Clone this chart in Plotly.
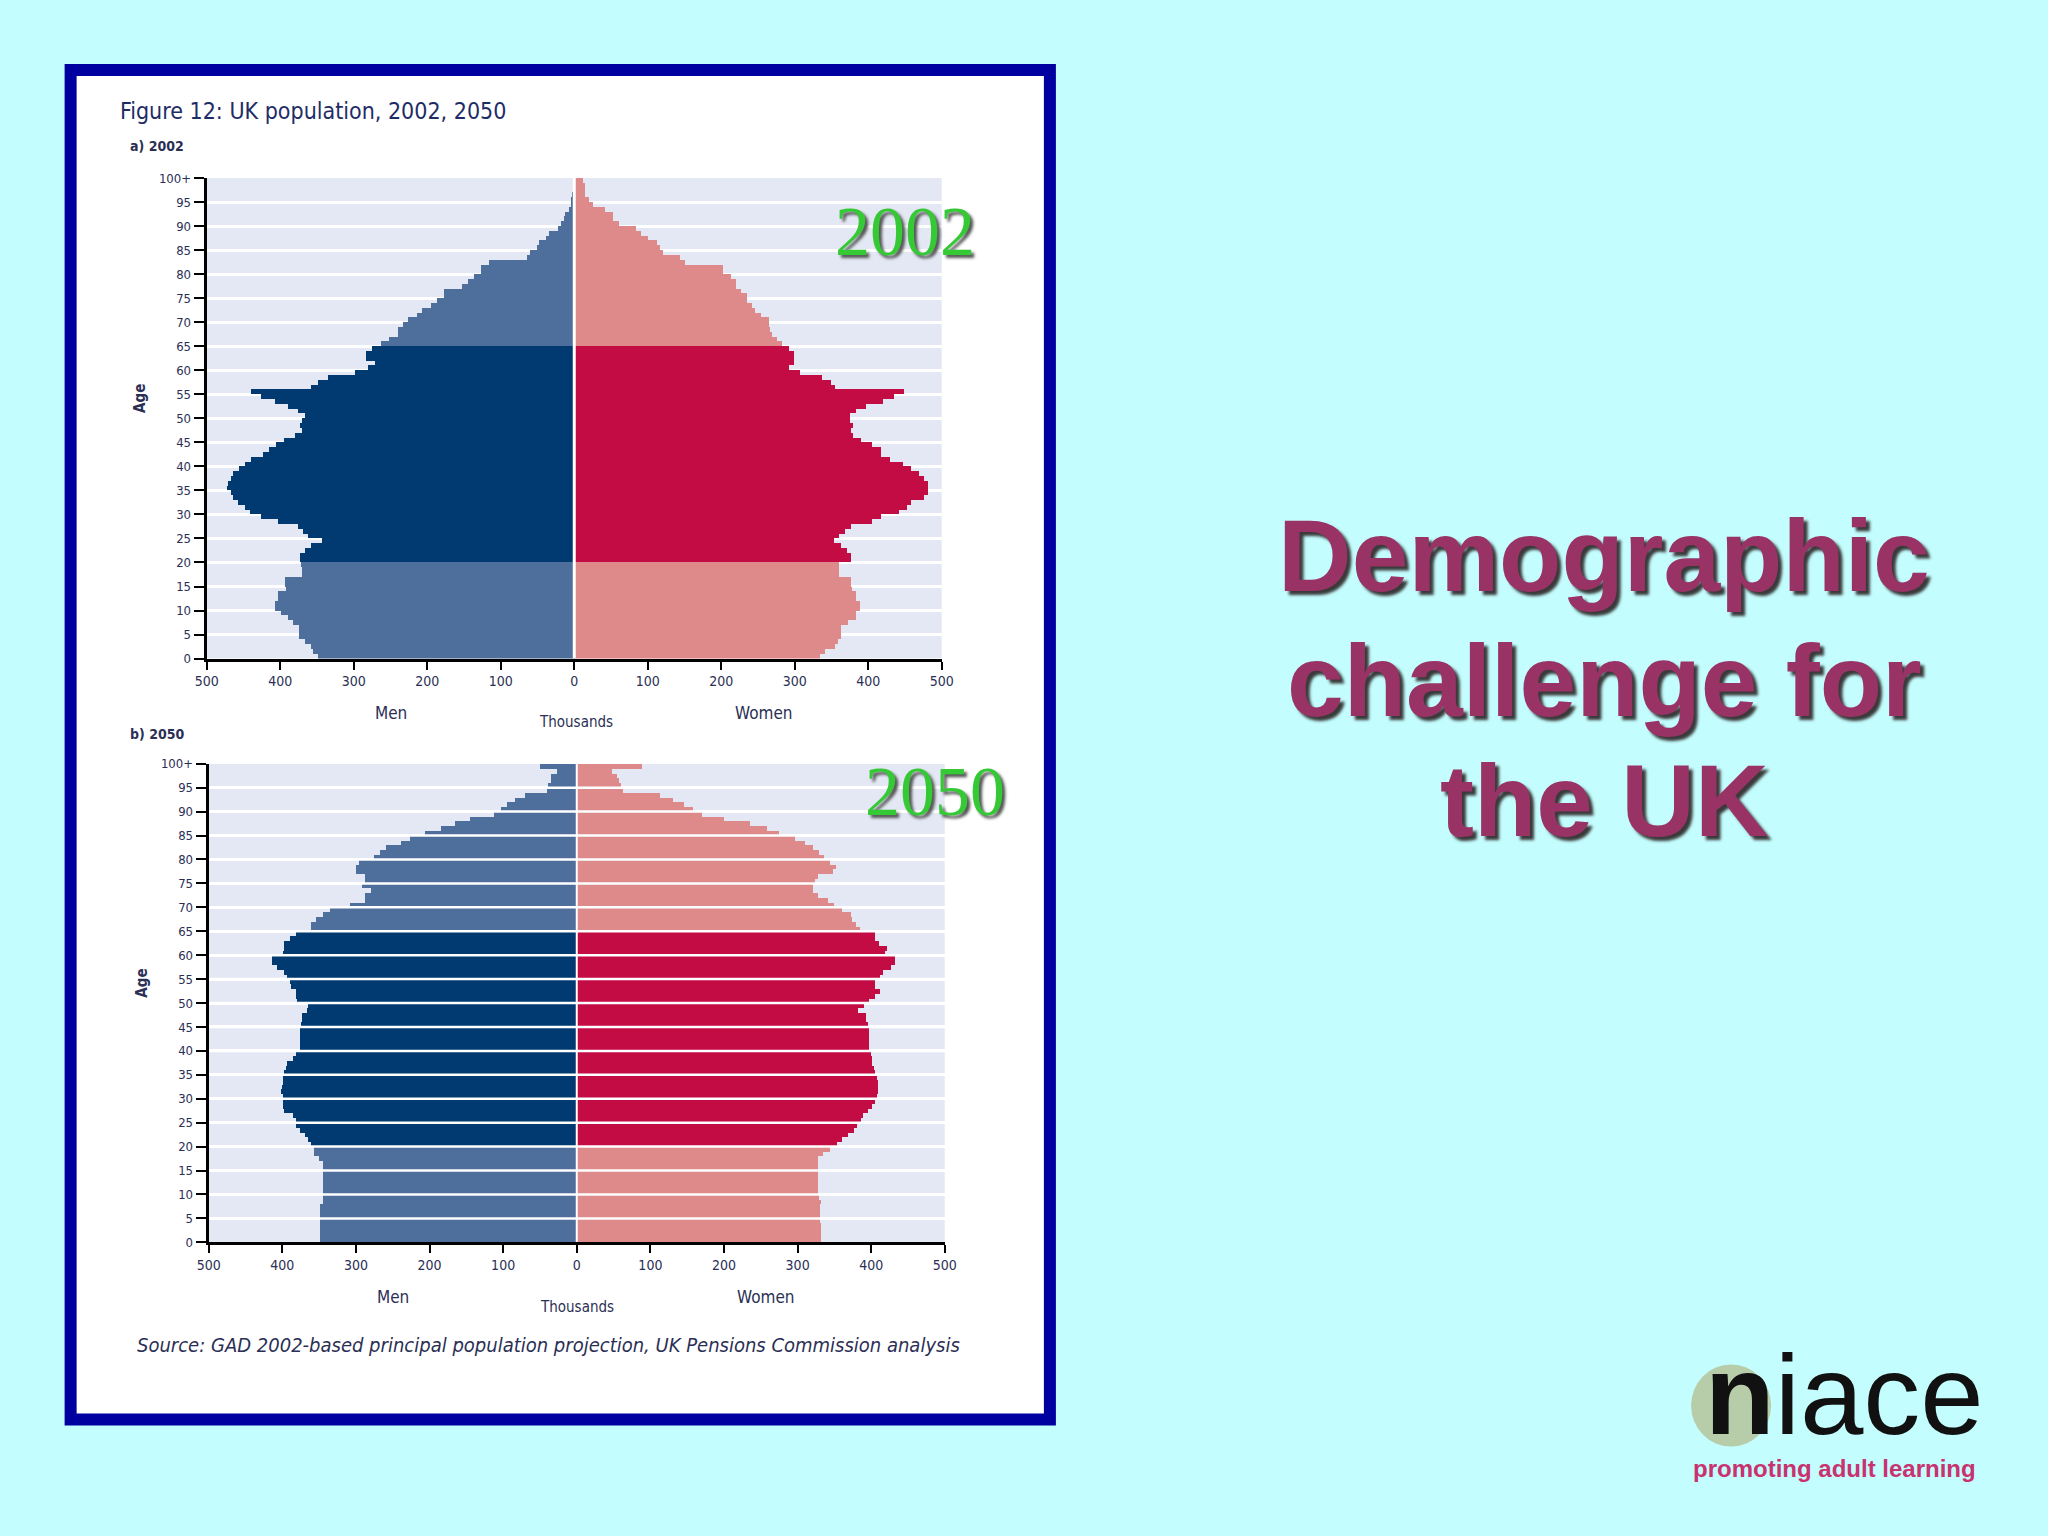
import plotly.graph_objects as go

W, H = 2048, 1536

# ---------------- data (thousands) ----------------
ages = list(range(100))  # last bar = 100+ band at the top
age_tick_vals = list(range(0, 101, 5))
age_tick_text = [str(a) for a in range(0, 100, 5)] + ["100+"]
thousand_tick_vals = [-500, -400, -300, -200, -100, 0, 100, 200, 300, 400, 500]
thousand_tick_text = ["500", "400", "300", "200", "100", "0", "100", "200", "300", "400", "500"]

men_2002 = [349, 356, 359, 367, 375, 375, 375, 383, 390, 399,
            407, 407, 403, 403, 392, 394, 394, 371, 371, 372,
            374, 374, 367, 359, 344, 362, 369, 376, 403, 426,
            442, 448, 458, 464, 467, 473, 471, 467, 464, 457,
            448, 440, 424, 415, 406, 395, 380, 371, 374, 371,
            367, 376, 390, 408, 426, 440, 358, 349, 335, 299,
            281, 272, 284, 284, 276, 264, 252, 240, 240, 233,
            227, 215, 207, 195, 187, 178, 178, 153, 145, 137,
            128, 128, 117, 65, 60, 51, 49, 39, 35, 22,
            19, 15, 13, 8, 5, 5, 4, 2, 1, 1]
women_2002 = [334, 340, 354, 358, 363, 363, 363, 372, 383, 383,
              388, 388, 383, 383, 377, 376, 376, 360, 360, 360,
              376, 376, 370, 363, 353, 360, 368, 376, 404, 417,
              441, 452, 458, 475, 480, 480, 480, 475, 469, 457,
              447, 429, 417, 417, 404, 390, 379, 376, 379, 374,
              374, 383, 397, 419, 435, 448, 354, 349, 336, 306,
              291, 298, 298, 298, 291, 282, 275, 268, 266, 264,
              264, 254, 245, 241, 235, 235, 226, 219, 219, 213,
              202, 202, 150, 144, 120, 116, 112, 100, 90, 83,
              60, 52, 52, 42, 25, 19, 14, 14, 14, 12]
men_2050 = [349, 349, 349, 349, 349, 349, 349, 349, 345, 345,
            345, 345, 345, 345, 345, 345, 345, 350, 357, 357,
            361, 366, 370, 377, 382, 382, 386, 398, 399, 399,
            400, 402, 401, 399, 399, 398, 395, 394, 386, 382,
            377, 377, 377, 377, 377, 375, 374, 374, 367, 366,
            380, 382, 382, 388, 390, 394, 398, 407, 415, 415,
            400, 398, 398, 390, 382, 361, 361, 355, 345, 336,
            309, 288, 288, 280, 292, 288, 288, 300, 300, 296,
            276, 268, 259, 239, 227, 207, 185, 166, 145, 113,
            104, 95, 84, 71, 41, 39, 35, 35, 27, 51]
women_2050 = [331, 331, 331, 331, 330, 330, 330, 330, 331, 328,
              327, 327, 327, 327, 327, 327, 327, 327, 334, 343,
              353, 360, 368, 376, 380, 385, 388, 395, 400, 404,
              408, 409, 409, 409, 408, 404, 403, 401, 400, 399,
              397, 397, 397, 397, 397, 395, 393, 393, 381, 390,
              397, 404, 412, 404, 404, 412, 416, 427, 432, 432,
              418, 421, 410, 404, 404, 384, 379, 373, 372, 360,
              349, 341, 327, 321, 321, 323, 327, 348, 352, 343,
              336, 328, 321, 309, 296, 274, 258, 235, 200, 170,
              158, 145, 130, 112, 63, 59, 57, 54, 47, 88]

# ---------------- styling ----------------
BG = "#C4FDFE"
FRAME = "#0000A0"
PLOT_BG = "#E3E8F4"
MEN_LIGHT, MEN_DARK = "#4E6E9B", "#003A70"
WOMEN_LIGHT, WOMEN_DARK = "#DE8A8B", "#C40C44"
COND = "Liberation Sans Narrow, DejaVu Sans Condensed, Liberation Sans, sans-serif"
INK = "#2B2F55"

# pixel -> paper mapping (small calibration so that the photographed page lines up)
AX, BX = 0.988, 11.4
AY, BY = 0.989, 7.2


def px(x):
    return ((x - BX) / AX) / W


def py(y):
    return 1 - ((y - BY) / AY) / H


def working_age(a):
    return 20 <= a <= 64


men_cols = [MEN_DARK if working_age(a) else MEN_LIGHT for a in ages]
women_cols = [WOMEN_DARK if working_age(a) else WOMEN_LIGHT for a in ages]
yc = [a + 0.5 for a in ages]

fig = go.Figure()

panels = [
    ("x", "y", men_2002, women_2002, False),
    ("x2", "y2", men_2050, women_2050, True),
]
for xa, ya, men, women, overlay_grid in panels:
    fig.add_trace(go.Bar(x=[-v for v in men], y=yc, orientation="h", width=1,
                         marker=dict(color=men_cols, line=dict(width=0)),
                         xaxis=xa, yaxis=ya, hoverinfo="skip", showlegend=False))
    fig.add_trace(go.Bar(x=women, y=yc, orientation="h", width=1,
                         marker=dict(color=women_cols, line=dict(width=0)),
                         xaxis=xa, yaxis=ya, hoverinfo="skip", showlegend=False))
    if overlay_grid:
        gx, gy = [], []
        for t in age_tick_vals[1:-1]:
            gx += [thousand_tick_vals[0], thousand_tick_vals[-1], None]
            gy += [t, t, None]
        fig.add_trace(go.Scatter(x=gx, y=gy, mode="lines",
                                 line=dict(color="white", width=2.5),
                                 xaxis=xa, yaxis=ya, hoverinfo="skip", showlegend=False))
    fig.add_trace(go.Scatter(x=[0, 0], y=[0, age_tick_vals[-1]], mode="lines",
                             line=dict(color="white", width=3 if not overlay_grid else 2),
                             xaxis=xa, yaxis=ya, hoverinfo="skip", showlegend=False))

axis_common = dict(showline=True, linecolor="black", linewidth=3, zeroline=False,
                   ticks="outside", tickcolor="black", tickwidth=2)

fig.update_layout(
    width=W, height=H,
    margin=dict(l=0, r=0, t=0, b=0),
    paper_bgcolor=BG,
    plot_bgcolor="rgba(0,0,0,0)",
    barmode="overlay", bargap=0,
    showlegend=False,
    xaxis=dict(domain=[px(206), px(941)], range=[-500, 500], anchor="y",
               tickvals=thousand_tick_vals, ticktext=thousand_tick_text, ticklen=8,
               showgrid=False, tickfont=dict(family=COND, size=14, color=INK), **axis_common),
    yaxis=dict(domain=[py(658), py(178)], range=[0, 100], anchor="x",
               tickvals=age_tick_vals, ticktext=age_tick_text, ticklen=10,
               showgrid=True, gridcolor="white", gridwidth=2.5,
               tickfont=dict(family=COND, size=13, color=INK), **axis_common),
    xaxis2=dict(domain=[px(208), px(944)], range=[-500, 500], anchor="y2",
                tickvals=thousand_tick_vals, ticktext=thousand_tick_text, ticklen=8,
                showgrid=False, tickfont=dict(family=COND, size=14, color=INK), **axis_common),
    yaxis2=dict(domain=[py(1241), py(763)], range=[0, 100], anchor="x2",
                tickvals=age_tick_vals, ticktext=age_tick_text, ticklen=10,
                showgrid=True, gridcolor="white", gridwidth=2.5,
                tickfont=dict(family=COND, size=13, color=INK), **axis_common),
)

shapes = [
    dict(type="rect", xref="paper", yref="paper", x0=px(70), x1=px(1049), y0=py(1418), y1=py(70),
         fillcolor="white", line=dict(color=FRAME, width=12), layer="below"),
    dict(type="rect", xref="x", yref="y", x0=-500, x1=500, y0=0, y1=100,
         fillcolor=PLOT_BG, line=dict(width=0), layer="below"),
    dict(type="rect", xref="x2", yref="y2", x0=-500, x1=500, y0=0, y1=100,
         fillcolor=PLOT_BG, line=dict(width=0), layer="below"),
    dict(type="circle", xref="paper", yref="paper", x0=px(1690), x1=px(1770), y0=py(1445), y1=py(1363),
         fillcolor="#B7CDA9", line=dict(width=0), layer="below"),
]
fig.update_layout(shapes=shapes)


def ann(text, x, y, size, color=INK, family=COND, xanchor="center", yanchor="middle",
        textangle=0, shadow=None):
    f = dict(size=size, color=color, family=family)
    if shadow:
        f["shadow"] = shadow
    return dict(text=text, x=px(x), y=py(y), xref="paper", yref="paper", showarrow=False,
                xanchor=xanchor, yanchor=yanchor, font=f, textangle=textangle)


annotations = [
    ann("Figure 12: UK population, 2002, 2050", 117, 111, 23, color="#1E2C66", xanchor="left"),
    ann("<b>a) 2002</b>", 127, 146, 14, xanchor="left"),
    ann("<b>b) 2050</b>", 127, 733, 14, xanchor="left"),
    ann("<b>Age</b>", 140, 398, 15, textangle=-90),
    ann("<b>Age</b>", 141, 982, 15, textangle=-90),
    ann("Men", 390, 712, 17),
    ann("Women", 763, 712, 17),
    ann("Thousands", 575, 721, 15),
    ann("Men", 392, 1296, 17),
    ann("Women", 765, 1296, 17),
    ann("Thousands", 576, 1306, 15),
    ann("<i>Source: GAD 2002-based principal population projection, UK Pensions Commission analysis</i>",
        134, 1344, 20, xanchor="left"),
    ann("2002", 904, 231, 70, color="#35C935", family="Liberation Serif, Times New Roman, serif",
        shadow="3px 3px 3px #555555"),
    ann("2050", 934, 791, 70, color="#35C935", family="Liberation Serif, Times New Roman, serif",
        shadow="3px 3px 3px #555555"),
    ann("<b>Demographic</b>", 1603, 556, 102, color="#993366",
        family="Liberation Sans, Arial, sans-serif", shadow="4px 4px 3px #3a3a3a"),
    ann("<b>challenge for</b>", 1603, 680, 102, color="#993366",
        family="Liberation Sans, Arial, sans-serif", shadow="4px 4px 3px #3a3a3a"),
    ann("<b>the UK</b>", 1603, 800, 102, color="#993366",
        family="Liberation Sans, Arial, sans-serif", shadow="4px 4px 3px #3a3a3a"),
    ann("<b>n</b>iace", 1702, 1393, 114, color="#111111",
        family="Liberation Sans, Arial, sans-serif", xanchor="left"),
    ann("<b>promoting adult learning</b>", 1833, 1467, 24, color="#C8326F",
        family="Liberation Sans, Arial, sans-serif"),
]
fig.update_layout(annotations=annotations)

fig.write_html("out.html", config={"displayModeBar": False},
               post_script="document.body.style.margin='0';document.body.style.overflow='hidden';")
